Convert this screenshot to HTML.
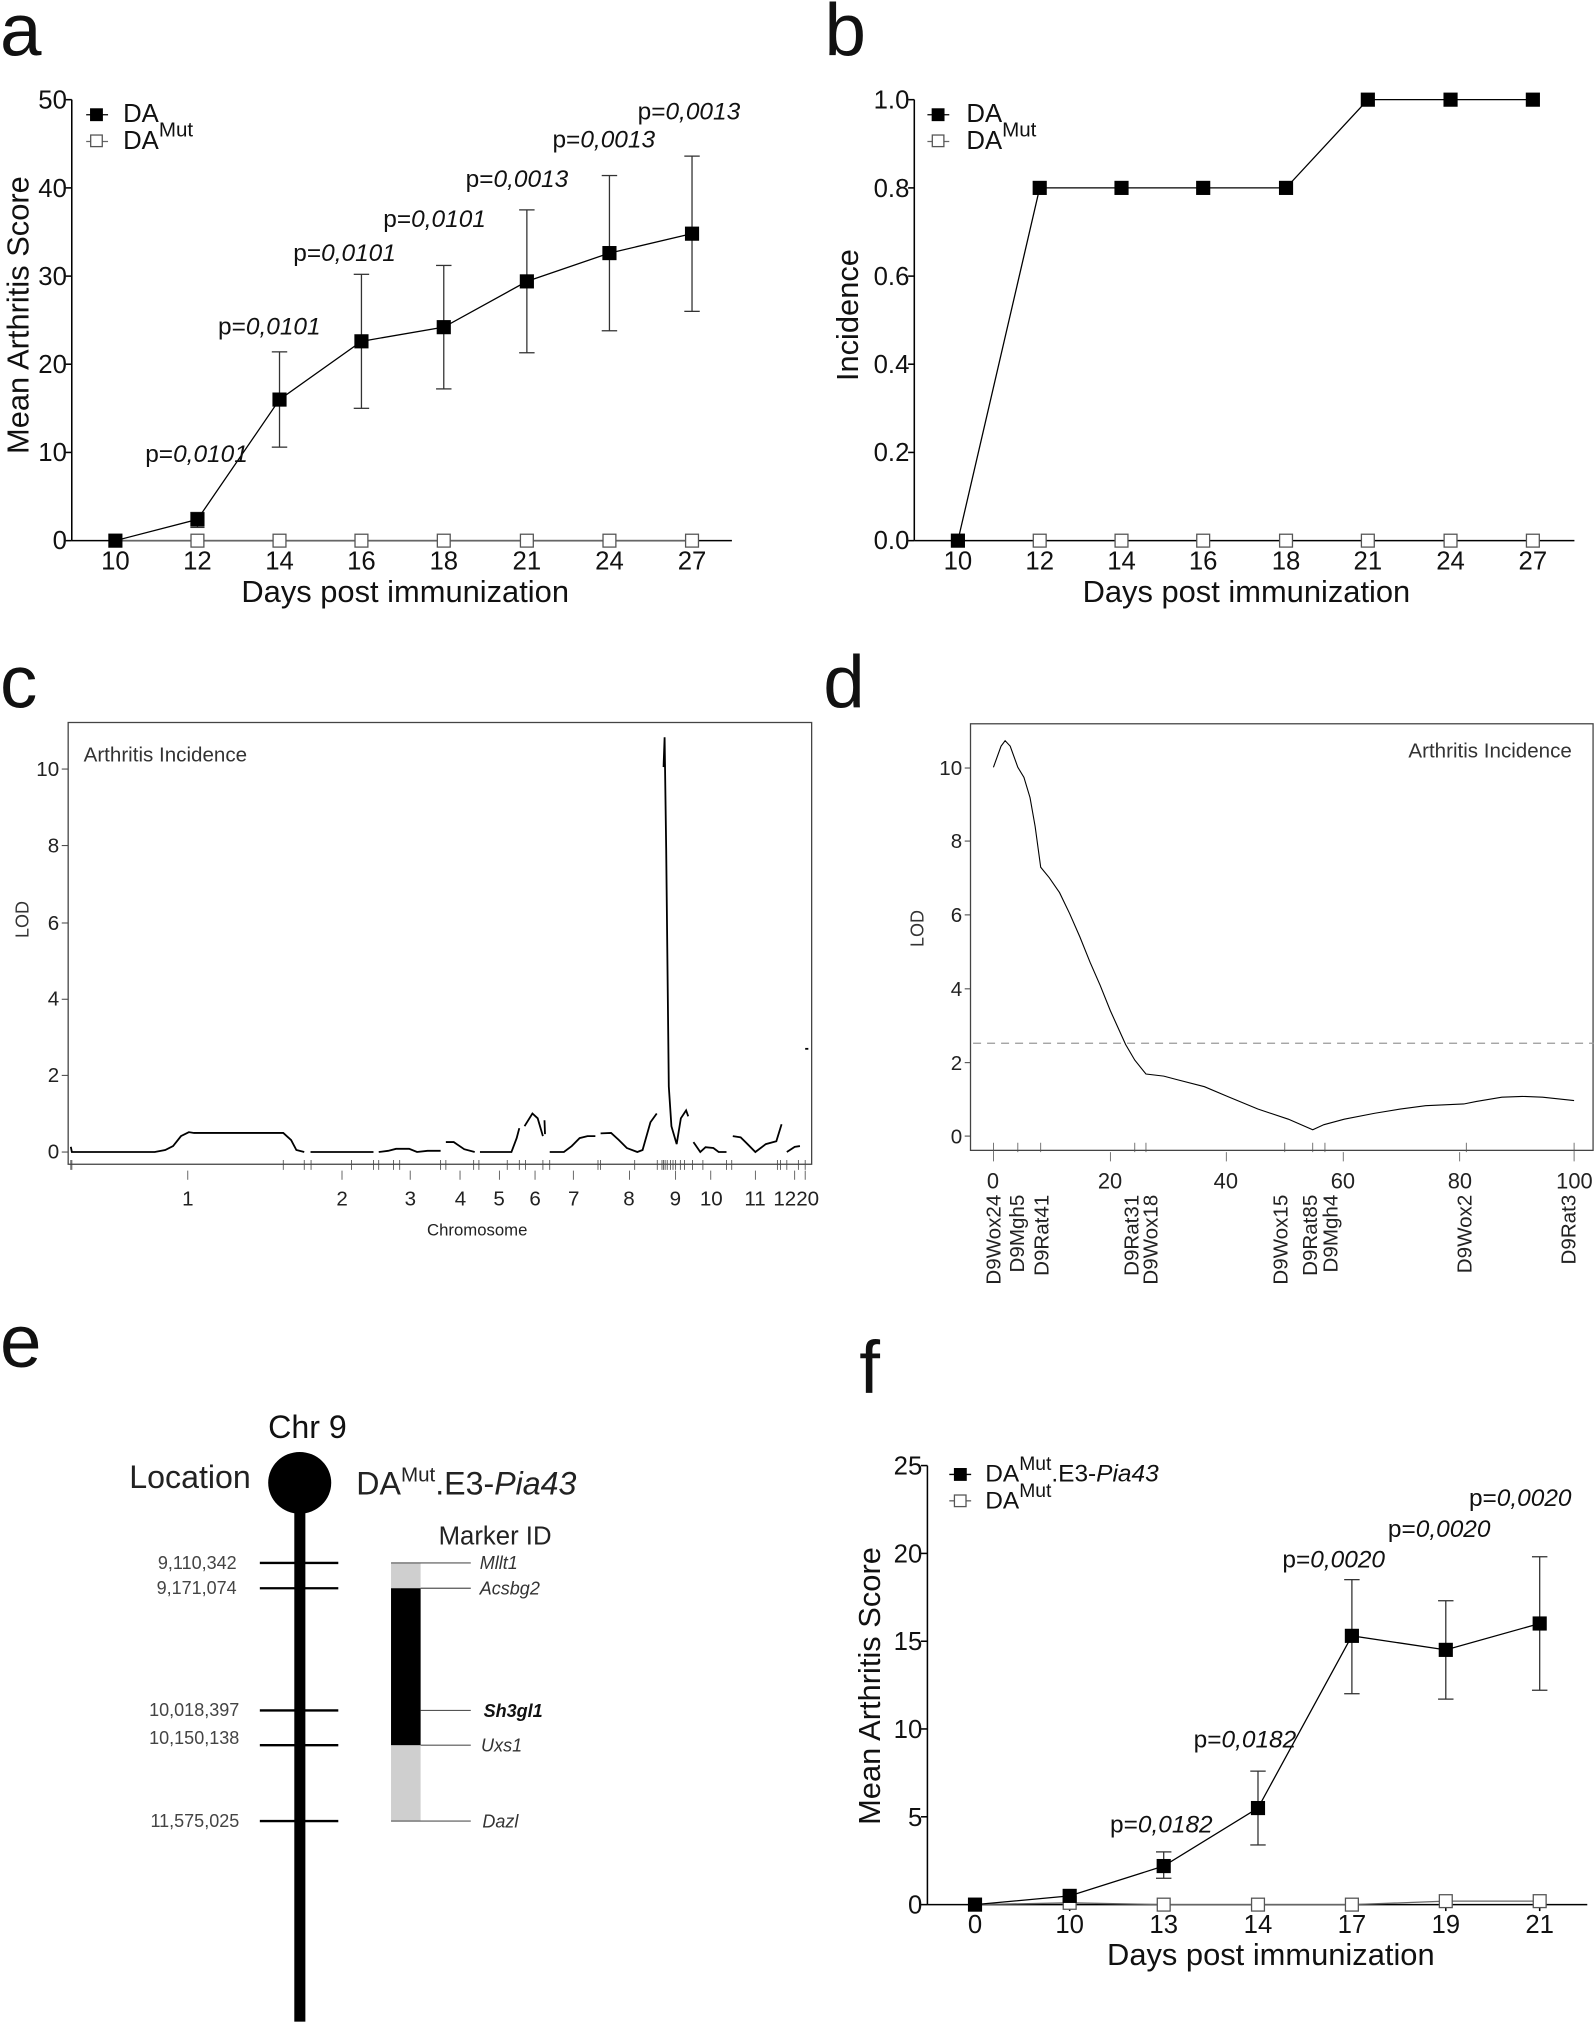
<!DOCTYPE html>
<html><head><meta charset="utf-8"><style>
html,body{margin:0;padding:0;background:#fff;}
svg{display:block;}
text{font-family:"Liberation Sans",Arial,sans-serif;}
</style></head><body>
<svg width="1595" height="2025" viewBox="0 0 1240 1574.6" preserveAspectRatio="none" xmlns="http://www.w3.org/2000/svg">
<rect width="1240" height="1574.6" fill="#fff"/>
<!-- panel letters -->
<g font-size="58" fill="#111">
<text x="0" y="43">a</text>
<text x="641" y="43">b</text>
<text x="0" y="550">c</text>
<text x="640" y="550">d</text>
<text x="0" y="1063">e</text>
<text x="668" y="1083">f</text>
</g>

<!-- ============ PANEL A ============ -->
<g stroke="#000" stroke-width="1.2" fill="none">
<line x1="55.8" y1="77.5" x2="55.8" y2="420.4"/>
<line x1="55.8" y1="420.4" x2="569" y2="420.4"/>
<line x1="51" y1="77.5" x2="55.8" y2="77.5"/><line x1="51" y1="146.1" x2="55.8" y2="146.1"/><line x1="51" y1="214.7" x2="55.8" y2="214.7"/><line x1="51" y1="283.2" x2="55.8" y2="283.2"/><line x1="51" y1="351.8" x2="55.8" y2="351.8"/><line x1="51" y1="420.4" x2="55.8" y2="420.4"/>
<g>
<line x1="89.7" y1="420.4" x2="89.7" y2="425"/><line x1="153.5" y1="420.4" x2="153.5" y2="425"/><line x1="217.3" y1="420.4" x2="217.3" y2="425"/><line x1="281" y1="420.4" x2="281" y2="425"/><line x1="345" y1="420.4" x2="345" y2="425"/><line x1="409.6" y1="420.4" x2="409.6" y2="425"/><line x1="473.8" y1="420.4" x2="473.8" y2="425"/><line x1="538" y1="420.4" x2="538" y2="425"/>
</g>
</g>
<g font-size="20" text-anchor="end" fill="#111">
<text x="52" y="427">0</text><text x="52" y="358.5">10</text><text x="52" y="290">20</text><text x="52" y="221.5">30</text><text x="52" y="153">40</text><text x="52" y="84.5">50</text>
</g>
<g font-size="20" text-anchor="middle" fill="#111">
<text x="89.7" y="443">10</text><text x="153.5" y="443">12</text><text x="217.3" y="443">14</text><text x="281" y="443">16</text><text x="345" y="443">18</text><text x="409.6" y="443">21</text><text x="473.8" y="443">24</text><text x="538" y="443">27</text>
</g>
<text x="315" y="468" font-size="24" text-anchor="middle" fill="#111">Days post immunization</text>
<text transform="translate(22,245) rotate(-90)" font-size="24" text-anchor="middle" fill="#111">Mean Arthritis Score</text>
<!-- open series -->
<g stroke="#555" stroke-width="1" fill="#fff">
<line x1="89.7" y1="420.4" x2="538" y2="420.4" stroke="#666"/>
<rect x="148.5" y="415.4" width="10" height="10"/><rect x="212.3" y="415.4" width="10" height="10"/><rect x="276" y="415.4" width="10" height="10"/><rect x="340" y="415.4" width="10" height="10"/><rect x="404.6" y="415.4" width="10" height="10"/><rect x="468.8" y="415.4" width="10" height="10"/><rect x="533" y="415.4" width="10" height="10"/>
</g>
<!-- error bars -->
<g stroke="#333" stroke-width="1">
<line x1="153.5" y1="410.1" x2="153.5" y2="398.5"/><line x1="148" y1="410.1" x2="159" y2="410.1"/><line x1="148" y1="398.5" x2="159" y2="398.5"/>
<line x1="217.3" y1="347.7" x2="217.3" y2="273.6"/><line x1="211.3" y1="347.7" x2="223.3" y2="347.7"/><line x1="211.3" y1="273.6" x2="223.3" y2="273.6"/>
<line x1="281" y1="317.5" x2="281" y2="213.3"/><line x1="275" y1="317.5" x2="287" y2="317.5"/><line x1="275" y1="213.3" x2="287" y2="213.3"/>
<line x1="345" y1="302.4" x2="345" y2="206.4"/><line x1="339" y1="302.4" x2="351" y2="302.4"/><line x1="339" y1="206.4" x2="351" y2="206.4"/>
<line x1="409.6" y1="274.3" x2="409.6" y2="163.2"/><line x1="403.6" y1="274.3" x2="415.6" y2="274.3"/><line x1="403.6" y1="163.2" x2="415.6" y2="163.2"/>
<line x1="473.8" y1="257.2" x2="473.8" y2="136.5"/><line x1="467.8" y1="257.2" x2="479.8" y2="257.2"/><line x1="467.8" y1="136.5" x2="479.8" y2="136.5"/>
<line x1="538" y1="242.1" x2="538" y2="121.4"/><line x1="532" y1="242.1" x2="544" y2="242.1"/><line x1="532" y1="121.4" x2="544" y2="121.4"/>
</g>
<polyline points="89.7,420.4 153.5,403.9 217.3,310.7 281,265.4 345,254.4 409.6,218.8 473.8,196.8 538,181.7" fill="none" stroke="#000" stroke-width="1"/>
<g fill="#000">
<rect x="84.2" y="414.9" width="11" height="11"/><rect x="148" y="398.4" width="11" height="11"/><rect x="211.8" y="305.2" width="11" height="11"/><rect x="275.5" y="259.9" width="11" height="11"/><rect x="339.5" y="248.9" width="11" height="11"/><rect x="404.1" y="213.3" width="11" height="11"/><rect x="468.3" y="191.3" width="11" height="11"/><rect x="532.5" y="176.2" width="11" height="11"/>
</g>
<!-- legend a -->
<line x1="67" y1="89.2" x2="84" y2="89.2" stroke="#000"/><rect x="70" y="84.2" width="10" height="10" fill="#000"/>
<text x="95.7" y="95" font-size="20" fill="#111">DA</text>
<line x1="67" y1="110" x2="84" y2="110" stroke="#666"/><rect x="70.5" y="105" width="9" height="9" fill="#fff" stroke="#555"/>
<text x="95.7" y="116" font-size="20" fill="#111">DA<tspan font-size="16" dy="-10">Mut</tspan></text>
<!-- p labels a -->
<g font-size="19" fill="#111">
<text x="112.9" y="359.4">p=<tspan font-style="italic">0,0101</tspan></text>
<text x="169.5" y="260.2">p=<tspan font-style="italic">0,0101</tspan></text>
<text x="228" y="203">p=<tspan font-style="italic">0,0101</tspan></text>
<text x="298" y="176.6">p=<tspan font-style="italic">0,0101</tspan></text>
<text x="362" y="145.6">p=<tspan font-style="italic">0,0013</tspan></text>
<text x="429.5" y="114.6">p=<tspan font-style="italic">0,0013</tspan></text>
<text x="495.7" y="93">p=<tspan font-style="italic">0,0013</tspan></text>
</g>

<!-- ============ PANEL B ============ -->
<g stroke="#000" stroke-width="1.2" fill="none">
<line x1="710.8" y1="77.5" x2="710.8" y2="420.4"/>
<line x1="710.8" y1="420.4" x2="1224" y2="420.4"/>
<line x1="706" y1="77.5" x2="710.8" y2="77.5"/><line x1="706" y1="146.1" x2="710.8" y2="146.1"/><line x1="706" y1="214.7" x2="710.8" y2="214.7"/><line x1="706" y1="283.2" x2="710.8" y2="283.2"/><line x1="706" y1="351.8" x2="710.8" y2="351.8"/><line x1="706" y1="420.4" x2="710.8" y2="420.4"/>
<line x1="744.7" y1="420.4" x2="744.7" y2="425"/><line x1="808.3" y1="420.4" x2="808.3" y2="425"/><line x1="871.9" y1="420.4" x2="871.9" y2="425"/><line x1="935.4" y1="420.4" x2="935.4" y2="425"/><line x1="999.8" y1="420.4" x2="999.8" y2="425"/><line x1="1063.4" y1="420.4" x2="1063.4" y2="425"/><line x1="1127.7" y1="420.4" x2="1127.7" y2="425"/><line x1="1191.7" y1="420.4" x2="1191.7" y2="425"/>
</g>
<g font-size="20" text-anchor="end" fill="#111">
<text x="707" y="427">0.0</text><text x="707" y="358.5">0.2</text><text x="707" y="290">0.4</text><text x="707" y="221.5">0.6</text><text x="707" y="153">0.8</text><text x="707" y="84.5">1.0</text>
</g>
<g font-size="20" text-anchor="middle" fill="#111">
<text x="744.7" y="443">10</text><text x="808.3" y="443">12</text><text x="871.9" y="443">14</text><text x="935.4" y="443">16</text><text x="999.8" y="443">18</text><text x="1063.4" y="443">21</text><text x="1127.7" y="443">24</text><text x="1191.7" y="443">27</text>
</g>
<text x="969" y="468" font-size="24" text-anchor="middle" fill="#111">Days post immunization</text>
<text transform="translate(667,245) rotate(-90)" font-size="24" text-anchor="middle" fill="#111">Incidence</text>
<g stroke="#555" stroke-width="1" fill="#fff">
<rect x="803.3" y="415.4" width="10" height="10"/><rect x="866.9" y="415.4" width="10" height="10"/><rect x="930.4" y="415.4" width="10" height="10"/><rect x="994.8" y="415.4" width="10" height="10"/><rect x="1058.4" y="415.4" width="10" height="10"/><rect x="1122.7" y="415.4" width="10" height="10"/><rect x="1186.7" y="415.4" width="10" height="10"/>
</g>
<polyline points="744.7,420.4 808.3,146.1 871.9,146.1 935.4,146.1 999.8,146.1 1063.4,77.5 1127.7,77.5 1191.7,77.5" fill="none" stroke="#000" stroke-width="1"/>
<g fill="#000">
<rect x="739.2" y="414.9" width="11" height="11"/><rect x="802.8" y="140.6" width="11" height="11"/><rect x="866.4" y="140.6" width="11" height="11"/><rect x="929.9" y="140.6" width="11" height="11"/><rect x="994.3" y="140.6" width="11" height="11"/><rect x="1057.9" y="72" width="11" height="11"/><rect x="1122.2" y="72" width="11" height="11"/><rect x="1186.2" y="72" width="11" height="11"/>
</g>
<line x1="721" y1="89.2" x2="738" y2="89.2" stroke="#000"/><rect x="724.3" y="84.2" width="10" height="10" fill="#000"/>
<text x="751.3" y="95" font-size="20" fill="#111">DA</text>
<line x1="721" y1="110" x2="738" y2="110" stroke="#666"/><rect x="724.8" y="105" width="9" height="9" fill="#fff" stroke="#555"/>
<text x="751.3" y="116" font-size="20" fill="#111">DA<tspan font-size="16" dy="-10">Mut</tspan></text>

<!-- ============ PANEL C ============ -->
<rect x="53" y="561.8" width="578" height="343.5" fill="none" stroke="#444" stroke-width="1"/>
<g stroke="#444" stroke-width="0.8">
<line x1="48" y1="895.8" x2="53" y2="895.8"/><line x1="48" y1="836.2" x2="53" y2="836.2"/><line x1="48" y1="777" x2="53" y2="777"/><line x1="48" y1="717.7" x2="53" y2="717.7"/><line x1="48" y1="657.5" x2="53" y2="657.5"/><line x1="48" y1="598" x2="53" y2="598"/>
</g>
<g font-size="16" text-anchor="end" fill="#222">
<text x="46" y="901">0</text><text x="46" y="841.5">2</text><text x="46" y="782">4</text><text x="46" y="723">6</text><text x="46" y="663">8</text><text x="46" y="603.5">10</text>
</g>
<text x="65" y="592" font-size="16" fill="#333">Arthritis Incidence</text>
<text transform="translate(22,715) rotate(-90)" font-size="14" text-anchor="middle" fill="#333">LOD</text>
<g transform="translate(0,505.4) scale(0.4078,0.3086)" fill="none" stroke="#000" stroke-width="1.8" vector-effect="non-scaling-stroke">
<g stroke-width="1.8" vector-effect="non-scaling-stroke">
<polyline vector-effect="non-scaling-stroke" points="135,1252 137,1265 295,1265 315,1260 330,1250 345,1225 360,1215 370,1217 540,1217 555,1235 565,1260 580,1265"/>
<polyline vector-effect="non-scaling-stroke" points="592,1265 712,1265"/>
<polyline vector-effect="non-scaling-stroke" points="722,1265 740,1262 755,1257 780,1257 795,1265 815,1262 840,1262"/>
<polyline vector-effect="non-scaling-stroke" points="850,1240 865,1240 885,1258 905,1265"/>
<polyline vector-effect="non-scaling-stroke" points="915,1265 975,1265 985,1230 990,1205"/>
<polyline vector-effect="non-scaling-stroke" points="1000,1200 1015,1168 1025,1180 1035,1225"/>
<polyline vector-effect="non-scaling-stroke" points="1038,1185 1039,1220"/>
<polyline vector-effect="non-scaling-stroke" points="1048,1265 1075,1265 1090,1250 1105,1230 1120,1225 1135,1225"/>
<polyline vector-effect="non-scaling-stroke" points="1145,1218 1165,1217 1180,1235 1195,1255 1215,1265 1225,1260 1240,1190 1252,1168"/>
<polyline vector-effect="non-scaling-stroke" points="1265,295 1267,220 1270,500 1275,1100 1280,1200 1290,1245 1298,1180 1308,1160 1312,1175"/>
<polyline vector-effect="non-scaling-stroke" points="1322,1240 1335,1265 1345,1253 1360,1255 1370,1265 1385,1265"/>
<polyline vector-effect="non-scaling-stroke" points="1397,1225 1412,1228 1425,1245 1440,1265 1460,1245 1480,1238 1490,1195"/>
<polyline vector-effect="non-scaling-stroke" points="1500,1265 1515,1252 1525,1250"/>
<polyline vector-effect="non-scaling-stroke" points="1535,1005 1541,1005"/>
</g>
<g stroke="#444" stroke-width="0.8">
<path vector-effect="non-scaling-stroke" d="M135 1285V1310M137 1285V1310M540 1285V1310M580 1285V1310M593 1285V1310M670 1285V1310M712 1285V1310M722 1285V1310M750 1285V1310M762 1285V1310M840 1285V1310M850 1285V1310M903 1285V1310M913 1285V1310M967 1285V1310M990 1285V1310M1002 1285V1310M1035 1285V1310M1048 1285V1310M1140 1285V1310M1145 1285V1310M1210 1285V1310M1253 1285V1310M1262 1285V1310M1265 1285V1310M1268 1285V1310M1272 1285V1310M1278 1285V1310M1283 1285V1310M1288 1285V1310M1297 1285V1310M1305 1285V1310M1320 1285V1310M1340 1285V1310M1385 1285V1310M1395 1285V1310M1482 1285V1310M1488 1285V1310M1500 1285V1310M1522 1285V1310M1535 1285V1310"/>
<path vector-effect="non-scaling-stroke" d="M358 1312V1335M652 1312V1335M782 1312V1335M877 1312V1335M952 1312V1335M1020 1312V1335M1093 1312V1335M1200 1312V1335M1288 1312V1335M1355 1312V1335M1440 1312V1335M1515 1312V1335M1535 1312V1335"/>
</g>
</g>
<g font-size="16" text-anchor="middle" fill="#222">
<text x="146" y="937.4">1</text><text x="266" y="937.4">2</text><text x="319" y="937.4">3</text><text x="358" y="937.4">4</text><text x="388" y="937.4">5</text><text x="416" y="937.4">6</text><text x="446" y="937.4">7</text><text x="489" y="937.4">8</text><text x="525" y="937.4">9</text><text x="553" y="937.4">10</text><text x="587" y="937.4">11</text><text x="619" y="937.4">1220</text>
</g>
<text x="371" y="960.6" font-size="13" text-anchor="middle" fill="#222">Chromosome</text>

<!-- ============ PANEL D ============ -->
<rect x="754.5" y="562.8" width="484" height="331.7" fill="none" stroke="#444" stroke-width="1"/>
<g stroke="#444" stroke-width="0.8">
<line x1="750" y1="883.4" x2="754.5" y2="883.4"/><line x1="750" y1="826.3" x2="754.5" y2="826.3"/><line x1="750" y1="768.9" x2="754.5" y2="768.9"/><line x1="750" y1="711.4" x2="754.5" y2="711.4"/><line x1="750" y1="654" x2="754.5" y2="654"/><line x1="750" y1="597.2" x2="754.5" y2="597.2"/>
</g>
<g font-size="16" text-anchor="end" fill="#222">
<text x="748" y="889">0</text><text x="748" y="832">2</text><text x="748" y="774.5">4</text><text x="748" y="717">6</text><text x="748" y="659.5">8</text><text x="748" y="602.5">10</text>
</g>
<text x="1222" y="589" font-size="16" text-anchor="end" fill="#333">Arthritis Incidence</text>
<text transform="translate(718,722) rotate(-90)" font-size="14" text-anchor="middle" fill="#333">LOD</text>
<g transform="translate(622.1,505.4) scale(0.3953,0.3281)" fill="none">
<line vector-effect="non-scaling-stroke" x1="340" y1="932" x2="1560" y2="932" stroke="#999" stroke-width="1.2" stroke-dasharray="8,6"/>
<polyline vector-effect="non-scaling-stroke" stroke="#000" stroke-width="1.1" points="380,278 395,228 403,215 413,228 428,278 440,302 452,350 462,418 473,515 490,540 510,575 530,625 550,680 570,740 590,795 610,855 625,895 640,935 658,972 680,1005 715,1010 740,1018 795,1035 840,1058 900,1088 960,1112 1008,1137 1030,1125 1070,1112 1130,1098 1180,1088 1230,1080 1305,1076 1330,1070 1380,1060 1420,1058 1460,1060 1522,1068"/>
<path vector-effect="non-scaling-stroke" stroke="#555" stroke-width="0.8" d="M380 1168V1190M428 1168V1190M473 1168V1190M658 1168V1190M680 1168V1190M953 1168V1190M1008 1168V1190M1032 1168V1190M1310 1168V1190M1522 1168V1190M380 1190V1212M610 1190V1212M838 1190V1212M1068 1190V1212M1297 1190V1212M1522 1190V1212"/>
</g>
<g font-size="17" text-anchor="middle" fill="#222">
<text x="772" y="924">0</text><text x="863" y="924">20</text><text x="953" y="924">40</text><text x="1044" y="924">60</text><text x="1135" y="924">80</text><text x="1224" y="924">100</text>
</g>
<g font-size="16" text-anchor="end" fill="#222">
<text transform="translate(778,929) rotate(-90)">D9Wox24</text>
<text transform="translate(796,929) rotate(-90)">D9Mgh5</text>
<text transform="translate(815,929) rotate(-90)">D9Rat41</text>
<text transform="translate(885,929) rotate(-90)">D9Rat31</text>
<text transform="translate(900,929) rotate(-90)">D9Wox18</text>
<text transform="translate(1001,929) rotate(-90)">D9Wox15</text>
<text transform="translate(1024,929) rotate(-90)">D9Rat85</text>
<text transform="translate(1040,929) rotate(-90)">D9Mgh4</text>
<text transform="translate(1144,929) rotate(-90)">D9Wox2</text>
<text transform="translate(1225,929) rotate(-90)">D9Rat3</text>
</g>

<!-- ============ PANEL E ============ -->
<text x="239" y="1118" font-size="25" text-anchor="middle" fill="#111">Chr 9</text>
<ellipse cx="233" cy="1153" rx="24.5" ry="24" fill="#000"/>
<rect x="228.8" y="1160" width="8.6" height="412" fill="#000"/>
<text x="195" y="1157" font-size="25" text-anchor="end" fill="#222">Location</text>
<text x="277" y="1162" font-size="25" fill="#222">DA<tspan font-size="16" dy="-10">Mut</tspan><tspan dy="10">.E3-</tspan><tspan font-style="italic">Pia43</tspan></text>
<text x="341" y="1201" font-size="20" fill="#222">Marker ID</text>
<g stroke="#000" stroke-width="1.8">
<line x1="202" y1="1215.3" x2="263" y2="1215.3"/><line x1="202" y1="1235" x2="263" y2="1235"/><line x1="202" y1="1330" x2="263" y2="1330"/><line x1="202" y1="1357" x2="263" y2="1357"/><line x1="202" y1="1416" x2="263" y2="1416"/>
</g>
<g font-size="14" text-anchor="end" fill="#444">
<text x="184" y="1220">9,110,342</text><text x="184" y="1239.5">9,171,074</text><text x="186" y="1334.5">10,018,397</text><text x="186" y="1356">10,150,138</text><text x="186" y="1420.5">11,575,025</text>
</g>
<rect x="304" y="1215.3" width="23" height="200.7" fill="#cfcfcf"/>
<rect x="304" y="1235" width="23" height="122" fill="#000"/>
<g stroke="#555" stroke-width="0.9">
<line x1="304" y1="1215.3" x2="366" y2="1215.3"/><line x1="327" y1="1235" x2="366" y2="1235"/><line x1="327" y1="1330" x2="366" y2="1330"/><line x1="327" y1="1357" x2="366" y2="1357"/><line x1="304" y1="1416" x2="366" y2="1416"/>
</g>
<g font-size="14" font-style="italic" fill="#333">
<text x="373" y="1220">Mllt1</text><text x="373" y="1240">Acsbg2</text><text x="376" y="1335" font-weight="bold" fill="#111">Sh3gl1</text><text x="374" y="1362">Uxs1</text><text x="375" y="1421">Dazl</text>
</g>

<!-- ============ PANEL F ============ -->
<g stroke="#000" stroke-width="1.2" fill="none">
<line x1="721" y1="1139.6" x2="721" y2="1481"/>
<line x1="721" y1="1481" x2="1234" y2="1481"/>
<line x1="716" y1="1139.6" x2="721" y2="1139.6"/><line x1="716" y1="1207.9" x2="721" y2="1207.9"/><line x1="716" y1="1276.2" x2="721" y2="1276.2"/><line x1="716" y1="1344.4" x2="721" y2="1344.4"/><line x1="716" y1="1412.7" x2="721" y2="1412.7"/><line x1="716" y1="1481" x2="721" y2="1481"/>
<line x1="758" y1="1481" x2="758" y2="1486"/><line x1="831.6" y1="1481" x2="831.6" y2="1486"/><line x1="904.7" y1="1481" x2="904.7" y2="1486"/><line x1="978" y1="1481" x2="978" y2="1486"/><line x1="1051" y1="1481" x2="1051" y2="1486"/><line x1="1124" y1="1481" x2="1124" y2="1486"/><line x1="1197" y1="1481" x2="1197" y2="1486"/>
</g>
<g font-size="20" text-anchor="end" fill="#111">
<text x="717" y="1488">0</text><text x="717" y="1419.7">5</text><text x="717" y="1351.4">10</text><text x="717" y="1283.2">15</text><text x="717" y="1214.9">20</text><text x="717" y="1146.6">25</text>
</g>
<g font-size="20" text-anchor="middle" fill="#111">
<text x="758" y="1503">0</text><text x="831.6" y="1503">10</text><text x="904.7" y="1503">13</text><text x="978" y="1503">14</text><text x="1051" y="1503">17</text><text x="1124" y="1503">19</text><text x="1197" y="1503">21</text>
</g>
<text x="988" y="1528" font-size="24" text-anchor="middle" fill="#111">Days post immunization</text>
<text transform="translate(684,1311) rotate(-90)" font-size="24" text-anchor="middle" fill="#111">Mean Arthritis Score</text>
<polyline points="758,1481 831.6,1479.6 904.7,1481 978,1481 1051,1481 1124,1478.3 1197,1478.3" fill="none" stroke="#666" stroke-width="1"/>
<g stroke="#555" stroke-width="1" fill="#fff">
<rect x="826.6" y="1474.6" width="10" height="10"/><rect x="899.7" y="1476" width="10" height="10"/><rect x="973" y="1476" width="10" height="10"/><rect x="1046" y="1476" width="10" height="10"/><rect x="1119" y="1473.3" width="10" height="10"/><rect x="1192" y="1473.3" width="10" height="10"/>
</g>
<g stroke="#333" stroke-width="1">
<line x1="904.7" y1="1460.5" x2="904.7" y2="1440"/><line x1="898.7" y1="1460.5" x2="910.7" y2="1460.5"/><line x1="898.7" y1="1440" x2="910.7" y2="1440"/>
<line x1="978" y1="1434.6" x2="978" y2="1377.2"/><line x1="972" y1="1434.6" x2="984" y2="1434.6"/><line x1="972" y1="1377.2" x2="984" y2="1377.2"/>
<line x1="1051" y1="1317" x2="1051" y2="1228.3"/><line x1="1045" y1="1317" x2="1057" y2="1317"/><line x1="1045" y1="1228.3" x2="1057" y2="1228.3"/>
<line x1="1124" y1="1321.2" x2="1124" y2="1244.7"/><line x1="1118" y1="1321.2" x2="1130" y2="1321.2"/><line x1="1118" y1="1244.7" x2="1130" y2="1244.7"/>
<line x1="1197" y1="1314.3" x2="1197" y2="1210.5"/><line x1="1191" y1="1314.3" x2="1203" y2="1314.3"/><line x1="1191" y1="1210.5" x2="1203" y2="1210.5"/>
</g>
<polyline points="758,1481 831.6,1474.2 904.7,1451 978,1405.9 1051,1272 1124,1282.9 1197,1262.4" fill="none" stroke="#000" stroke-width="1"/>
<g fill="#000">
<rect x="752.5" y="1475.5" width="11" height="11"/><rect x="826.1" y="1468.7" width="11" height="11"/><rect x="899.2" y="1445.5" width="11" height="11"/><rect x="972.5" y="1400.4" width="11" height="11"/><rect x="1045.5" y="1266.5" width="11" height="11"/><rect x="1118.5" y="1277.4" width="11" height="11"/><rect x="1191.5" y="1256.9" width="11" height="11"/>
</g>
<line x1="738" y1="1146.5" x2="755" y2="1146.5" stroke="#000"/><rect x="741.6" y="1141.5" width="10" height="10" fill="#000"/>
<text x="766" y="1152" font-size="19" fill="#111">DA<tspan font-size="15" dy="-9">Mut</tspan><tspan dy="9">.E3-</tspan><tspan font-style="italic">Pia43</tspan></text>
<line x1="738" y1="1167" x2="755" y2="1167" stroke="#666"/><rect x="742" y="1162.5" width="9" height="9" fill="#fff" stroke="#555"/>
<text x="766" y="1173" font-size="19" fill="#111">DA<tspan font-size="15" dy="-9">Mut</tspan></text>
<g font-size="19" fill="#111">
<text x="863" y="1425">p=<tspan font-style="italic">0,0182</tspan></text>
<text x="928" y="1359">p=<tspan font-style="italic">0,0182</tspan></text>
<text x="997" y="1219">p=<tspan font-style="italic">0,0020</tspan></text>
<text x="1079" y="1195">p=<tspan font-style="italic">0,0020</tspan></text>
<text x="1142" y="1171">p=<tspan font-style="italic">0,0020</tspan></text>
</g>
</svg>
</body></html>
